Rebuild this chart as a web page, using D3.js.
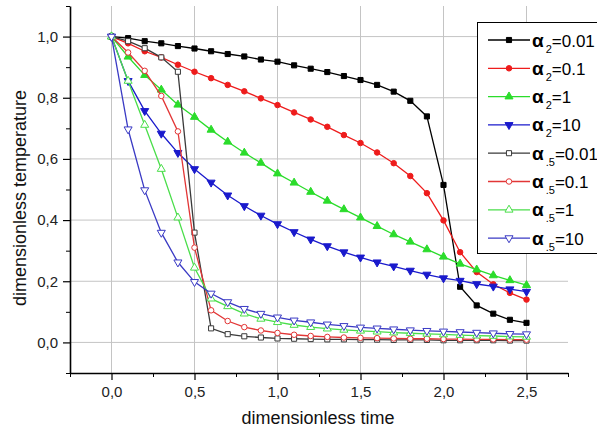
<!DOCTYPE html>
<html>
<head>
<meta charset="utf-8">
<script src="https://cdn.jsdelivr.net/npm/d3@7"></script>
<style>
  body { margin: 0; background: #fff; }
  svg { font-family: "Liberation Sans", Arial, sans-serif; }
  .grid line { stroke: #c4c4c4; stroke-width: 1; }
  .axis path, .axis line { stroke: #000; }
  .axis text { font-size: 15px; fill: #222; }
</style>
</head>
<body>
<script>
// time points (dimensionless)
var time = [0.0, 0.1, 0.2, 0.3, 0.4, 0.5, 0.6, 0.7, 0.8, 0.9, 1.0, 1.1, 1.2,
  1.3, 1.4, 1.5, 1.6, 1.7, 1.8, 1.9, 2.0, 2.1, 2.2, 2.3, 2.4, 2.5];

// alpha_2 series (filled markers)
var a2_001 = [1.0, 0.995, 0.985, 0.978, 0.969, 0.961, 0.952, 0.943, 0.935, 0.925, 0.918,
  0.906, 0.895, 0.884, 0.871, 0.858, 0.842, 0.82, 0.79, 0.739, 0.515, 0.182, 0.121,
  0.094, 0.074, 0.064];
var a2_01 = [1.0, 0.978, 0.952, 0.932, 0.908, 0.885, 0.864, 0.842, 0.821, 0.798, 0.776,
  0.752, 0.729, 0.705, 0.678, 0.652, 0.621, 0.586, 0.544, 0.488, 0.399, 0.295, 0.23,
  0.19, 0.162, 0.14];
var a2_1 = [1.0, 0.934, 0.874, 0.826, 0.777, 0.737, 0.695, 0.656, 0.62, 0.587, 0.552,
  0.522, 0.492, 0.463, 0.435, 0.408, 0.38, 0.353, 0.329, 0.304, 0.28, 0.257, 0.238,
  0.219, 0.203, 0.187];
var a2_10 = [1.0, 0.855, 0.757, 0.683, 0.62, 0.567, 0.523, 0.481, 0.446, 0.415, 0.387,
  0.361, 0.337, 0.315, 0.295, 0.278, 0.262, 0.249, 0.235, 0.222, 0.21, 0.202, 0.191,
  0.183, 0.174, 0.166];

// alpha_.5 series (open markers)
var a5_001 = [1.0, 0.985, 0.962, 0.932, 0.885, 0.359, 0.046, 0.027, 0.02, 0.016, 0.013,
  0.012, 0.011, 0.01, 0.01, 0.009, 0.009, 0.008, 0.008, 0.008, 0.007, 0.007, 0.007,
  0.007, 0.006, 0.006];
var a5_01 = [1.0, 0.948, 0.888, 0.806, 0.69, 0.31, 0.105, 0.07, 0.05, 0.039, 0.031,
  0.025, 0.021, 0.018, 0.016, 0.015, 0.014, 0.013, 0.012, 0.012, 0.011, 0.011, 0.01,
  0.01, 0.009, 0.009];
var a5_1 = [1.0, 0.855, 0.711, 0.567, 0.408, 0.244, 0.143, 0.118, 0.094, 0.077, 0.066,
  0.057, 0.05, 0.045, 0.041, 0.038, 0.035, 0.032, 0.03, 0.028, 0.026, 0.024, 0.022,
  0.021, 0.019, 0.018];
var a5_10 = [1.0, 0.697, 0.498, 0.359, 0.262, 0.198, 0.16, 0.132, 0.11, 0.094, 0.082,
  0.072, 0.066, 0.059, 0.054, 0.049, 0.046, 0.043, 0.04, 0.038, 0.036, 0.034, 0.032,
  0.03, 0.028, 0.027];

var xTicks = [0, 0.5, 1.0, 1.5, 2.0, 2.5];
var yTicks = [0, 0.2, 0.4, 0.6, 0.8, 1.0];

var series = [
  { sub: "2", val: "0.01", data: a2_001, color: "#000000", shape: "square", open: false },
  { sub: "2", val: "0.1", data: a2_01, color: "#ee1c1c", shape: "circle", open: false },
  { sub: "2", val: "1", data: a2_1, color: "#2bdc2b", shape: "up", open: false },
  { sub: "2", val: "10", data: a2_10, color: "#1a1acc", shape: "down", open: false },
  { sub: ".5", val: "0.01", data: a5_001, color: "#3a3a3a", shape: "square", open: true },
  { sub: ".5", val: "0.1", data: a5_01, color: "#e23636", shape: "circle", open: true },
  { sub: ".5", val: "1", data: a5_1, color: "#4ade4a", shape: "up", open: true },
  { sub: ".5", val: "10", data: a5_10, color: "#3a3ac4", shape: "down", open: true }
];

var width = 597;
var height = 437;

var plot = { left: 70, right: 568, top: 6, bottom: 373 };

var svg = d3
  .select("body")
  .append("svg")
  .attr("width", width)
  .attr("height", height);

var x = d3.scaleLinear().domain([-0.25, 2.75]).range([plot.left, plot.right]);
var y = d3.scaleLinear().domain([-0.1, 1.1]).range([plot.bottom, plot.top]);

var fmt = function(d) {
  return d3.format(".1f")(d).replace(".", ",");
};

// grid
var grid = svg.append("g").attr("class", "grid");
grid
  .selectAll("line.v")
  .data(xTicks)
  .enter()
  .append("line")
  .attr("x1", function(d) { return x(d); })
  .attr("x2", function(d) { return x(d); })
  .attr("y1", plot.top)
  .attr("y2", plot.bottom);
grid
  .selectAll("line.h")
  .data(yTicks)
  .enter()
  .append("line")
  .attr("y1", function(d) { return y(d); })
  .attr("y2", function(d) { return y(d); })
  .attr("x1", plot.left)
  .attr("x2", plot.right);

// axes
var xMinor = d3.range(-0.25, 2.76, 0.5);
var yMinor = d3.range(-0.1, 1.11, 0.2);

svg
  .append("g")
  .attr("class", "axis")
  .attr("transform", "translate(0," + plot.bottom + ")")
  .call(d3.axisBottom(x).tickValues(xMinor).tickSize(4).tickFormat(""))
  .select(".domain").remove();
svg
  .append("g")
  .attr("class", "axis")
  .attr("transform", "translate(" + plot.left + ",0)")
  .call(d3.axisLeft(y).tickValues(yMinor).tickSize(4).tickFormat(""))
  .select(".domain").remove();

var xAxis = svg
  .append("g")
  .attr("class", "axis")
  .attr("transform", "translate(0," + plot.bottom + ")")
  .call(d3.axisBottom(x).tickValues(xTicks).tickSize(7).tickSizeOuter(0).tickPadding(6).tickFormat(fmt));
xAxis.select(".domain").attr("stroke-width", 1.6);
xAxis.selectAll("line").attr("stroke-width", 1.2);

var yAxis = svg
  .append("g")
  .attr("class", "axis")
  .attr("transform", "translate(" + plot.left + ",0)")
  .call(d3.axisLeft(y).tickValues(yTicks).tickSize(7).tickSizeOuter(0).tickPadding(5).tickFormat(fmt));
yAxis.select(".domain").attr("stroke-width", 1.6);
yAxis.selectAll("line").attr("stroke-width", 1.2);

// axis titles
svg
  .append("text")
  .attr("x", 318)
  .attr("y", 424)
  .attr("text-anchor", "middle")
  .style("font-size", "18px")
  .style("fill", "#111")
  .text("dimensionless time");

svg
  .append("text")
  .attr("transform", "translate(26,198) rotate(-90)")
  .attr("text-anchor", "middle")
  .style("font-size", "18px")
  .style("fill", "#111")
  .text("dimensionless temperature");

// curves
var line = d3
  .line()
  .x(function(d, i) { return x(time[i]); })
  .y(function(d) { return y(d); });

function symbolPath(shape) {
  if (shape === "square") return d3.symbol().type(d3.symbolSquare).size(26)();
  if (shape === "circle") return d3.symbol().type(d3.symbolCircle).size(24)();
  return d3.symbol().type(d3.symbolTriangle).size(28)();
}

function drawMarker(g, s, px, py) {
  g.append("path")
    .attr("d", symbolPath(s.shape))
    .attr(
      "transform",
      "translate(" + px + "," + py + ")" + (s.shape === "down" ? " rotate(180)" : "")
    )
    .attr("fill", s.open ? "#fff" : s.color)
    .attr("stroke", s.color)
    .attr("stroke-width", 1);
}

series.forEach(function(s) {
  var g = svg.append("g");
  g.append("path")
    .datum(s.data)
    .attr("fill", "none")
    .attr("stroke", s.color)
    .attr("stroke-width", 1.3)
    .attr("d", line);
  s.data.forEach(function(v, i) {
    drawMarker(g, s, x(time[i]), y(v));
  });
});

// legend
var legend = svg.append("g");
legend
  .append("rect")
  .attr("x", 477.5)
  .attr("y", 22.5)
  .attr("width", 130)
  .attr("height", 231)
  .attr("fill", "#fff")
  .attr("stroke", "#000")
  .attr("stroke-width", 1);

series.forEach(function(s, i) {
  var cy = 40 + i * 28.3;
  legend
    .append("line")
    .attr("x1", 488)
    .attr("x2", 530)
    .attr("y1", cy)
    .attr("y2", cy)
    .attr("stroke", s.color)
    .attr("stroke-width", 1.3);
  drawMarker(legend, s, 509, cy);
  var t = legend
    .append("text")
    .attr("x", 532)
    .attr("y", cy + 6.5)
    .style("fill", "#000");
  t.append("tspan").style("font-size", "19px").style("font-weight", "bold").text("\u03b1");
  t.append("tspan").attr("dx", 2).attr("dy", 6).style("font-size", "11px").text(s.sub);
  t.append("tspan").attr("dy", -6).style("font-size", "17px").text("=" + s.val);
});
</script>
</body>
</html>
